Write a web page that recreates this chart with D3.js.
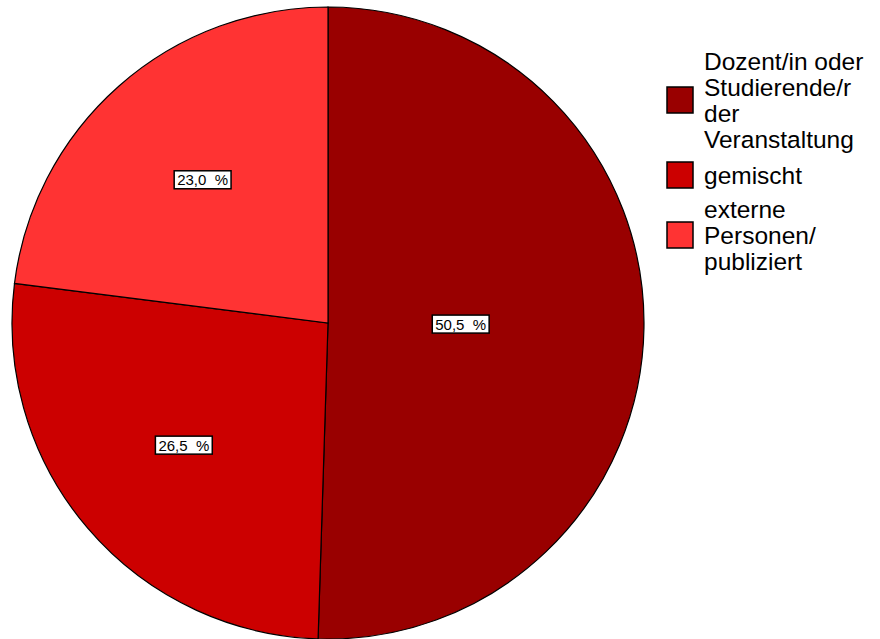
<!DOCTYPE html>
<html>
<head>
<meta charset="utf-8">
<script src="https://cdn.jsdelivr.net/npm/d3@7"></script>
<style>
  html, body { margin: 0; padding: 0; background: #fff; }
  svg { display: block; }
</style>
</head>
<body>
<svg id="chart" width="880" height="639"></svg>
<script>
const categories = ["Dozent/in oder Studierende/r der Veranstaltung", "gemischt", "externe Personen/ publiziert"];
const legendLines = [["Dozent/in oder", "Studierende/r", "der", "Veranstaltung"], ["gemischt"], ["externe", "Personen/", "publiziert"]];
const values = [50.5, 26.5, 23.0];
const valueLabels = ["50,5  %", "26,5  %", "23,0  %"];
const colors = ["#990000", "#CC0000", "#FF3333"];

const svg = d3.select("#chart");
const cx = 328, cy = 323, r = 316;
const font = "Arial, 'Liberation Sans', sans-serif";

const pie = d3.pie().sort(null).value(d => d)(values);
const arc = d3.arc().innerRadius(0).outerRadius(r);
const color = d3.scaleOrdinal().domain(categories).range(colors);

const g = svg.append("g").attr("transform", `translate(${cx},${cy})`);
g.selectAll("path.slice").data(pie).enter().append("path")
  .attr("class", "slice")
  .attr("d", arc)
  .attr("fill", (d, i) => color(categories[i]))
  .attr("stroke", "#000")
  .attr("stroke-width", 1.2);

// labels
const labelArcBig = d3.arc().innerRadius(r * 0.42).outerRadius(r * 0.42);
const labelArc = d3.arc().innerRadius(r * 0.6).outerRadius(r * 0.6);
pie.forEach((d, i) => {
  const c = (d.endAngle - d.startAngle) > Math.PI ? labelArcBig.centroid(d) : labelArc.centroid(d);
  const lg = g.append("g").attr("transform", `translate(${c[0]},${c[1] - 1})`);
  const t = lg.append("text")
    .attr("text-anchor", "middle")
    .attr("y", 5.5)
    .attr("font-family", font)
    .attr("font-size", 15)
    .style("white-space", "pre")
    .attr("xml:space", "preserve")
    .text(valueLabels[i]);
  const bb = t.node().getBBox();
  lg.insert("rect", "text")
    .attr("x", bb.x - 3).attr("y", -9)
    .attr("width", bb.width + 6).attr("height", 18)
    .attr("fill", "#fff").attr("stroke", "#000").attr("stroke-width", 1.5);
});

// legend
const legendSquareX = 667, sq = 26, textX = 704, lineH = 26;
const legendCenters = [100, 175, 235];
categories.forEach((c, i) => {
  const yc = legendCenters[i];
  svg.append("rect")
    .attr("x", legendSquareX).attr("y", yc - sq / 2)
    .attr("width", sq).attr("height", sq)
    .attr("fill", color(c)).attr("stroke", "#000").attr("stroke-width", 1.5);
  const lines = legendLines[i];
  const n = lines.length;
  lines.forEach((ln, j) => {
    svg.append("text")
      .attr("x", textX)
      .attr("y", yc + (j - (n - 1) / 2) * lineH + 9)
      .attr("font-family", font)
      .attr("font-size", 24.5)
      .attr("fill", "#000")
      .text(ln);
  });
});
</script>
</body>
</html>
